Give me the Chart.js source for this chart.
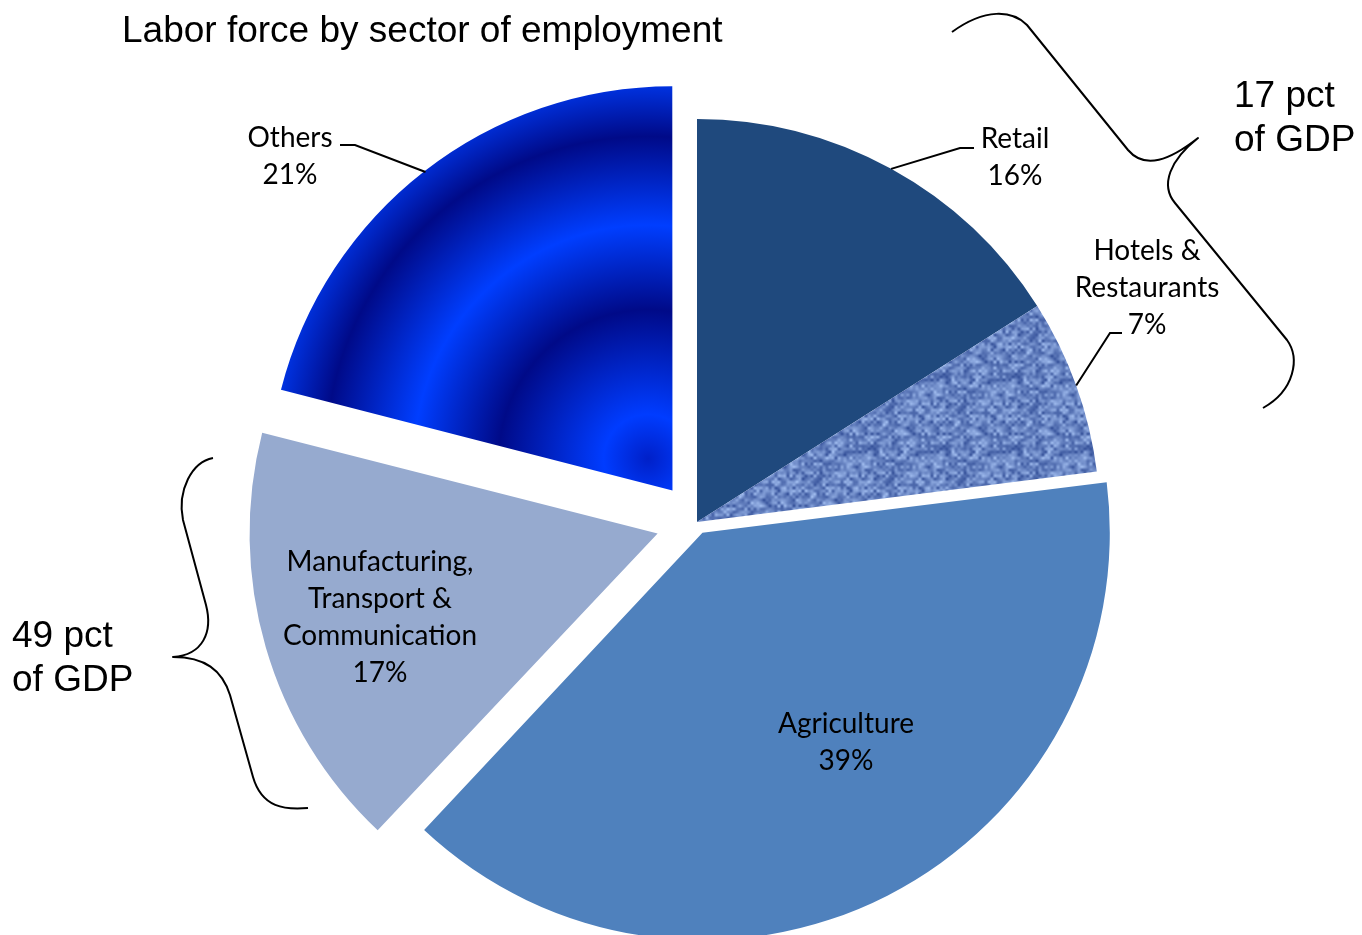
<!DOCTYPE html>
<html>
<head>
<meta charset="utf-8">
<title>Labor force by sector of employment</title>
<script src="https://cdn.jsdelivr.net/npm/chart.js@4.4.1/dist/chart.umd.min.js"></script>
<style>
  html, body { margin: 0; padding: 0; background: #fff; overflow: hidden; }
  #chart { display: block; }
</style>
</head>
<body>
<canvas id="chart" width="1362" height="935"></canvas>
<script>
// Sectors, clockwise from 12 o'clock
const categories = [
    ['Retail'],
    ['Hotels &', 'Restaurants'],
    ['Agriculture'],
    ['Manufacturing,', 'Transport &', 'Communication'],
    ['Others']
];
const shares = [16, 7, 39, 17, 21];          // % of labor force
const gdpShares = [17, 49];                  // retail + hotels, manufacturing group

const TITLE = 'Labor force by sector of employment';
const LABEL_FONT = '28px Lato';
const BIG_FONT = '37px "Liberation Sans", Arial, sans-serif';
const LINE_H = 37;

// Pull-out per slice; Chart.js moves an arc by a quarter of its offset
const SLICE_OFFSET = [0, 0, 48, 164, 160];
const RADIUS = 403;

// Label anchors: centre x, first baseline, optional leader elbow + end
const LABEL_LAYOUT = [
    { x: 1015, y: 148, lead: [[960, 148], [974, 148]] },
    { x: 1147, y: 260, lead: [[1110, 333], [1122, 333]] },
    { x: 846, y: 733 },
    { x: 380, y: 571 },
    { x: 290, y: 147, lead: [[355, 145], [340, 145]] }
];

// Small hash so the cloth texture is the same on every render
function hash(x, y) {
    let n = Math.imul(x, 374761393) + Math.imul(y, 668265263);
    n = Math.imul(n ^ (n >>> 13), 1274126177);
    return ((n ^ (n >>> 16)) >>> 0) / 4294967296;
}

// Woven blue tile for hotels & restaurants; cells are blended with
// wrap-around so the repeat has no seams
function clothPattern(ctx) {
    const cells = 24, scale = 3, size = cells * scale;
    const cellValue = (cx, cy) => {
        cx = (cx + cells) % cells;
        cy = (cy + cells) % cells;
        const weave = ((cx + cy) & 1) ? 0.1 : -0.1;
        return 0.55 + weave + (hash(cx, cy) - 0.5) * 0.7;
    };
    const tile = document.createElement('canvas');
    tile.width = tile.height = size;
    const tctx = tile.getContext('2d');
    const img = tctx.createImageData(size, size);
    const dark = [26, 54, 132], light = [172, 200, 248];
    for (let y = 0; y < size; y++) {
        for (let x = 0; x < size; x++) {
            const fx = x / scale - 0.5, fy = y / scale - 0.5;
            const x0 = Math.floor(fx), y0 = Math.floor(fy);
            const ax = fx - x0, ay = fy - y0;
            let t = cellValue(x0, y0) * (1 - ax) * (1 - ay) +
                    cellValue(x0 + 1, y0) * ax * (1 - ay) +
                    cellValue(x0, y0 + 1) * (1 - ax) * ay +
                    cellValue(x0 + 1, y0 + 1) * ax * ay;
            t = Math.max(0, Math.min(1, t));
            const i = (y * size + x) * 4;
            for (let k = 0; k < 3; k++) img.data[i + k] = dark[k] + (light[k] - dark[k]) * t;
            img.data[i + 3] = 255;
        }
    }
    tctx.putImageData(img, 0, 0);
    return ctx.createPattern(tile, 'repeat');
}

// Pulled-out apex of slice i, using the pie's own layout
function sliceApex(chart, i) {
    const area = chart.chartArea;
    const total = shares.reduce((a, b) => a + b, 0);
    const before = shares.slice(0, i).reduce((a, b) => a + b, 0);
    const mid = -Math.PI / 2 + 2 * Math.PI * (before + shares[i] / 2) / total;
    const shift = SLICE_OFFSET[i] / 4;
    return {
        x: (area.left + area.right) / 2 + Math.cos(mid) * shift,
        y: (area.top + area.bottom) / 2 + Math.sin(mid) * shift
    };
}

// Concentric bands of navy and bright blue for "Others"
function ringGradient(chart, i) {
    const p = sliceApex(chart, i);
    const g = chart.ctx.createRadialGradient(p.x, p.y, 0, p.x, p.y, RADIUS);
    g.addColorStop(0.00, '#0020C8');
    g.addColorStop(0.11, '#003CFF');
    g.addColorStop(0.37, '#000A88');
    g.addColorStop(0.58, '#003EFF');
    g.addColorStop(0.80, '#000A88');
    g.addColorStop(0.97, '#0040FF');
    g.addColorStop(1.00, '#0040FF');
    return g;
}

let cloth = null;

function sliceFill(c) {
    const solid = ['#1F497D', '#7F9DD2', '#4F81BD', '#96AACF', '#0033E0'];
    const chart = c.chart;
    if (!chart.chartArea) return solid[c.dataIndex];
    if (c.dataIndex === 1) {
        if (!cloth) cloth = clothPattern(chart.ctx);
        return cloth;
    }
    if (c.dataIndex === 4) return ringGradient(chart, 4);
    return solid[c.dataIndex];
}

// Point on the outer rim at the middle of an arc
function rimPoint(arc) {
    const mid = (arc.startAngle + arc.endAngle) / 2;
    const r = arc.outerRadius + (arc.options.offset || 0) / 4;
    return [arc.x + Math.cos(mid) * r, arc.y + Math.sin(mid) * r];
}

function drawBraces(ctx) {
    ctx.lineWidth = 2;
    ctx.strokeStyle = '#000';
    ctx.lineJoin = 'round';

    // right brace around retail + hotels
    ctx.beginPath();
    ctx.moveTo(952, 32);
    ctx.bezierCurveTo(985, 8, 1012, 10, 1027, 25);
    ctx.lineTo(1128, 150);
    ctx.bezierCurveTo(1145, 170, 1170, 160, 1198, 138);
    ctx.bezierCurveTo(1170, 160, 1160, 185, 1175, 203);
    ctx.lineTo(1287, 340);
    ctx.bezierCurveTo(1300, 358, 1295, 390, 1263, 408);
    ctx.stroke();

    // left brace beside manufacturing
    ctx.beginPath();
    ctx.moveTo(213, 458);
    ctx.bezierCurveTo(192, 462, 177, 490, 183, 520);
    ctx.lineTo(206, 605);
    ctx.bezierCurveTo(213, 632, 203, 655, 173, 657);
    ctx.bezierCurveTo(205, 657, 222, 670, 230, 695);
    ctx.lineTo(253, 777);
    ctx.bezierCurveTo(262, 808, 285, 810, 308, 808);
    ctx.stroke();
}

const overlay = {
    id: 'overlay',
    afterDraw(chart) {
        const ctx = chart.ctx;
        const arcs = chart.getDatasetMeta(0).data;
        ctx.save();
        ctx.fillStyle = '#000';

        // title
        ctx.font = BIG_FONT;
        ctx.textAlign = 'left';
        ctx.textBaseline = 'alphabetic';
        ctx.fillText(TITLE, 122, 42);

        // data labels and leader lines
        ctx.font = LABEL_FONT;
        ctx.textAlign = 'center';
        categories.forEach((lines, i) => {
            const spot = LABEL_LAYOUT[i];
            const text = lines.concat(shares[i] + '%');
            text.forEach((t, k) => ctx.fillText(t, spot.x, spot.y + k * LINE_H));
            if (spot.lead) {
                const [sx, sy] = rimPoint(arcs[i]);
                ctx.beginPath();
                ctx.lineWidth = 2;
                ctx.strokeStyle = '#000';
                ctx.moveTo(sx, sy);
                spot.lead.forEach(([x, y]) => ctx.lineTo(x, y));
                ctx.stroke();
            }
        });

        // GDP groups
        drawBraces(ctx);
        ctx.font = BIG_FONT;
        ctx.textAlign = 'left';
        ctx.fillText(gdpShares[0] + ' pct', 1234, 107);
        ctx.fillText('of GDP', 1234, 151);
        ctx.fillText(gdpShares[1] + ' pct', 12, 647);
        ctx.fillText('of GDP', 12, 691);

        ctx.restore();
    }
};

new Chart(document.getElementById('chart'), {
    type: 'pie',
    data: {
        labels: categories,
        datasets: [{
            data: shares,
            backgroundColor: sliceFill,
            borderWidth: 0,
            offset: SLICE_OFFSET,
            radius: RADIUS
        }]
    },
    options: {
        responsive: false,
        animation: false,
        events: [],
        layout: { padding: { left: 32, top: 109, right: 0, bottom: 0 } },
        plugins: {
            legend: { display: false },
            tooltip: { enabled: false },
            title: { display: false }
        }
    },
    plugins: [overlay]
});
</script>
</body>
</html>
